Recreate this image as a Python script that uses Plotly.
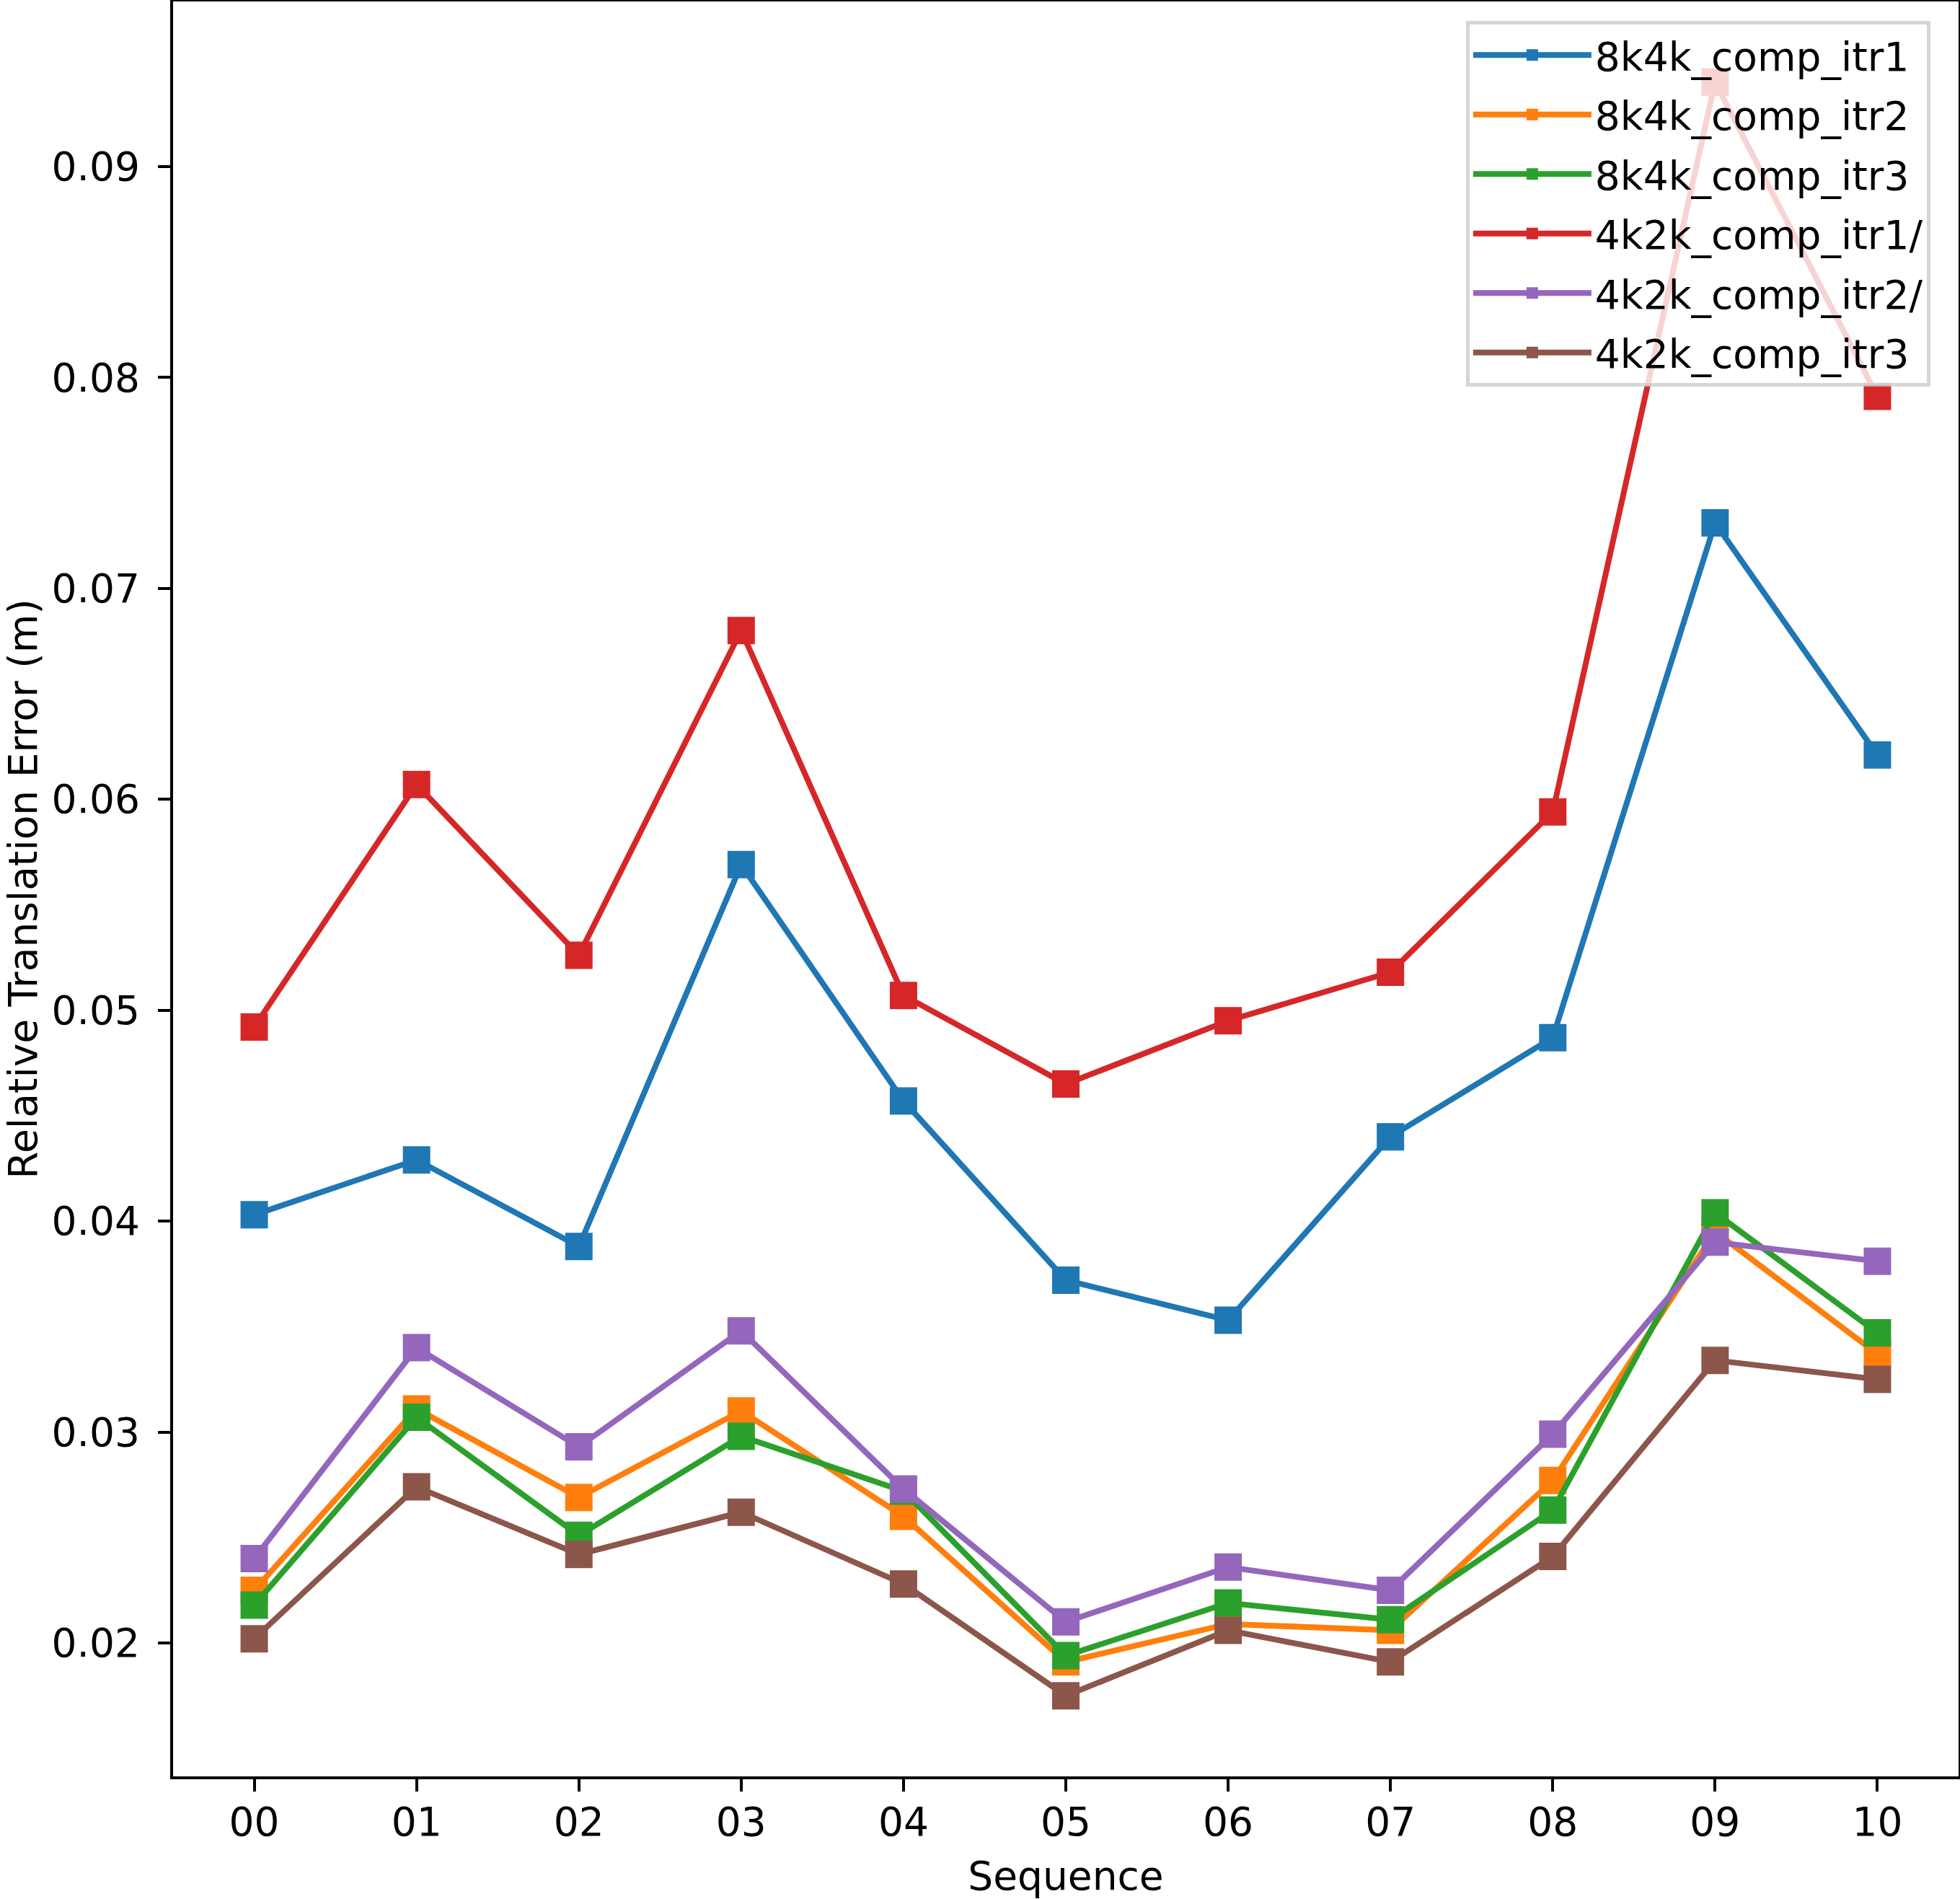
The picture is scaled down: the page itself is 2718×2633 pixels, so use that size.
import plotly.graph_objects as go

# sequences on the x axis
sequences = ["00", "01", "02", "03", "04", "05", "06", "07", "08", "09", "10"]

# relative translation error (m) per run
itr1_8k4k = [0.0403, 0.0429, 0.0388, 0.0569, 0.0457, 0.0372, 0.0353, 0.0440, 0.0487, 0.0731, 0.0621]
itr2_8k4k = [0.0225, 0.0311, 0.0269, 0.0310, 0.0260, 0.0191, 0.0209, 0.0206, 0.0277, 0.0395, 0.0337]
itr3_8k4k = [0.0218, 0.0307, 0.0251, 0.0298, 0.0272, 0.0194, 0.0219, 0.0211, 0.0263, 0.0404, 0.0347]
itr1_4k2k = [0.0492, 0.0607, 0.0526, 0.0680, 0.0507, 0.0465, 0.0495, 0.0518, 0.0594, 0.0940, 0.0791]
itr2_4k2k = [0.0240, 0.0340, 0.0293, 0.0348, 0.0273, 0.0210, 0.0236, 0.0225, 0.0299, 0.0390, 0.0381]
itr3_4k2k = [0.0202, 0.0274, 0.0242, 0.0262, 0.0228, 0.0175, 0.0206, 0.0191, 0.0241, 0.0334, 0.0325]

names = ["8k4k_comp_itr1", "8k4k_comp_itr2", "8k4k_comp_itr3",
         "4k2k_comp_itr1/", "4k2k_comp_itr2/", "4k2k_comp_itr3"]
series = [itr1_8k4k, itr2_8k4k, itr3_8k4k, itr1_4k2k, itr2_4k2k, itr3_4k2k]

y_ticks = [0.02, 0.03, 0.04, 0.05, 0.06, 0.07, 0.08, 0.09]
y_ticktext = ["0.02", "0.03", "0.04", "0.05", "0.06", "0.07", "0.08", "0.09"]

colors = ["#1f77b4", "#ff7f0e", "#2ca02c", "#d62728", "#9467bd", "#8c564b"]
FONT = "DejaVu Sans"
FS = 55

fig = go.Figure()
for i, (name, vals) in enumerate(zip(names, series)):
    fig.add_trace(go.Scatter(x=sequences, y=vals, name=name, mode="lines+markers",
                             line=dict(color=colors[i], width=8),
                             marker=dict(symbol="square", size=38, color=colors[i], line_width=0),
                             legendgroup=f"g{i}"))

# matplotlib-style 5% margins around the data
lo = min(min(s) for s in series)
hi = max(max(s) for s in series)
pad = 0.05 * (hi - lo)

axis_common = dict(showline=True, linecolor="black", linewidth=4, mirror=True,
                   ticks="outside", ticklen=17, tickwidth=4, tickcolor="black",
                   showgrid=False, zeroline=False, automargin=False,
                   tickfont=dict(family=FONT, size=FS, color="black"))

fig.update_xaxes(type="category", range=[-0.5, 10.5], ticklabelstandoff=-5,
                 title=dict(text="Sequence", font=dict(family=FONT, size=FS, color="black"), standoff=31),
                 **axis_common)
fig.update_yaxes(range=[lo - pad, hi + pad], tickvals=y_ticks, ticktext=y_ticktext, ticklabelstandoff=14,
                 title=dict(text="Relative Translation Error (m)", font=dict(family=FONT, size=FS, color="black"),
                            standoff=32),
                 **axis_common)

fig.update_layout(width=2718, height=2633,
                  margin=dict(l=240, r=2, t=2, b=170),
                  paper_bgcolor="white", plot_bgcolor="white",
                  font=dict(family=FONT, size=FS, color="black"),
                  showlegend=True,
                  legend=dict(x=0.7241, y=0.989, xanchor="left", yanchor="top",
                              bgcolor="rgba(255,255,255,0.8)", bordercolor="rgba(204,204,204,0.8)",
                              borderwidth=5, itemwidth=164, tracegroupgap=8,
                              font=dict(family=FONT, size=FS, color="black")))

fig.write_html("out.html", config={"displayModeBar": False},
               post_script="document.body.style.margin='0';")
